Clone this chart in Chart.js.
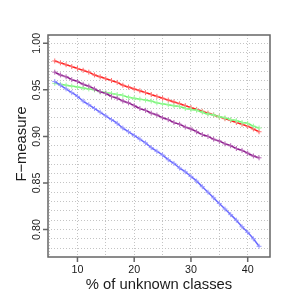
<!DOCTYPE html>
<html>
<head>
<meta charset="utf-8">
<script src="https://cdn.jsdelivr.net/npm/chart.js@4.4.1/dist/chart.umd.min.js"></script>
<style>html,body{margin:0;padding:0;background:#fff}</style>
</head>
<body>
<canvas id="fmChart" width="301" height="301"></canvas>
<script>
// % of unknown classes
var pctUnknown = [6,7,8,9,10,11,12,13,14,15,16,17,18,19,20,21,22,23,24,25,26,27,28,29,30,31,32,33,34,35,36,37,38,39,40,41,42];

// F-measure per method
var redF = [0.981,0.979,0.977,0.975,0.973,0.971,0.969,0.966,0.964,0.962,0.960,0.958,0.955,0.953,0.951,0.949,0.947,0.945,0.943,0.941,0.939,0.937,0.935,0.933,0.931,0.929,0.927,0.925,0.923,0.921,0.919,0.917,0.915,0.913,0.911,0.908,0.905];
var greenF = [0.957,0.956,0.955,0.954,0.953,0.952,0.951,0.950,0.948,0.947,0.946,0.945,0.944,0.942,0.941,0.940,0.939,0.938,0.936,0.935,0.934,0.933,0.932,0.930,0.929,0.928,0.926,0.924,0.923,0.921,0.920,0.918,0.917,0.915,0.914,0.911,0.909];
var purpleF = [0.969,0.966,0.964,0.961,0.959,0.956,0.954,0.951,0.948,0.946,0.943,0.941,0.938,0.936,0.933,0.930,0.928,0.925,0.923,0.920,0.918,0.915,0.913,0.910,0.908,0.905,0.902,0.900,0.897,0.895,0.892,0.890,0.887,0.885,0.882,0.879,0.877];
var blueF = [0.959,0.955,0.951,0.947,0.943,0.938,0.934,0.930,0.926,0.922,0.918,0.914,0.909,0.905,0.901,0.897,0.893,0.888,0.884,0.880,0.875,0.871,0.866,0.862,0.857,0.852,0.846,0.840,0.834,0.828,0.822,0.816,0.810,0.803,0.797,0.790,0.782];

// axes
var xTickLabels = [10, 20, 30, 40];
var yTickLabels = [0.80, 0.85, 0.90, 0.95, 1.00];
var xGrid = [5, 10, 15, 20, 25, 30, 35, 40];
var yGrid = [0.78,0.79,0.80,0.81,0.82,0.83,0.84,0.85,0.86,0.87,0.88,0.89,0.90,0.91,0.92,0.93,0.94,0.95,0.96,0.97,0.98,0.99,1.00];
var xTitle = '% of unknown classes';
var yTitle = 'F\u2212measure';

function series(vals, line, mark) {
    return {
        data: pctUnknown.map(function (x, i) { return {x: x, y: vals[i]}; }),
        borderColor: line,
        borderWidth: 1.5,
        pointStyle: 'cross',
        pointRadius: 2.5,
        pointBorderWidth: 1,
        pointBorderColor: mark,
        pointBackgroundColor: mark,
        tension: 0.4
    };
}

var frame = {
    id: 'frame',
    afterDraw: function (chart) {
        var c = chart.ctx, a = chart.chartArea, xs = chart.scales.x, ys = chart.scales.y;
        c.save();
        c.strokeStyle = '#666';
        c.lineWidth = 1.5;
        c.strokeRect(a.left, a.top, a.right - a.left, a.bottom - a.top);
        c.beginPath();
        xTickLabels.forEach(function (v) {
            var px = xs.getPixelForValue(v);
            c.moveTo(px, a.bottom); c.lineTo(px, a.bottom + 5);
        });
        yTickLabels.forEach(function (v) {
            var py = ys.getPixelForValue(v);
            c.moveTo(a.left, py); c.lineTo(a.left - 5, py);
        });
        c.stroke();

        c.fillStyle = '#1a1a1a';
        c.font = '10.7px "Liberation Sans", Arial, sans-serif';
        c.textAlign = 'center';
        c.textBaseline = 'alphabetic';
        xTickLabels.forEach(function (v) {
            c.fillText(String(v), xs.getPixelForValue(v), a.bottom + 15.5);
        });
        yTickLabels.forEach(function (v) {
            c.save();
            c.translate(a.left - 8.5, ys.getPixelForValue(v));
            c.rotate(-Math.PI / 2);
            c.fillText(v.toFixed(2), 0, 0);
            c.restore();
        });
        c.font = '14.8px "Liberation Sans", Arial, sans-serif';
        c.fillText(xTitle, (a.left + a.right) / 2, a.bottom + 31.5);
        c.save();
        c.translate(25.5, (a.top + a.bottom) / 2 - 2);
        c.rotate(-Math.PI / 2);
        c.fillText(yTitle, 0, 0);
        c.restore();
        c.restore();
    }
};

var ctx = document.getElementById('fmChart').getContext('2d');
var fmChart = new Chart(ctx, {
    type: 'line',
    data: {
        datasets: [
            series(blueF, '#6a6aff', '#9a9aff'),
            series(purpleF, '#8b1a8b', '#b566b5'),
            series(greenF, '#6cf56c', '#9cf89c'),
            series(redF, '#ff1a1a', '#ff7070')
        ]
    },
    options: {
        responsive: false,
        animation: false,
        layout: { padding: { left: 48, right: 31, top: 35, bottom: 44 } },
        plugins: { legend: { display: false }, tooltip: { enabled: false } },
        scales: {
            x: {
                type: 'linear',
                min: 4.81,
                max: 43.93,
                afterBuildTicks: function (s) { s.ticks = xGrid.map(function (v) { return {value: v}; }); },
                ticks: { display: false },
                grid: { color: '#c4c4c4', lineWidth: 1, drawTicks: false },
                border: { display: false, dash: [1, 2] }
            },
            y: {
                min: 0.7705,
                max: 1.0089,
                afterBuildTicks: function (s) { s.ticks = yGrid.map(function (v) { return {value: v}; }); },
                ticks: { display: false },
                grid: { color: '#c4c4c4', lineWidth: 1, drawTicks: false },
                border: { display: false, dash: [1, 2] }
            }
        }
    },
    plugins: [frame]
});
</script>
</body>
</html>
